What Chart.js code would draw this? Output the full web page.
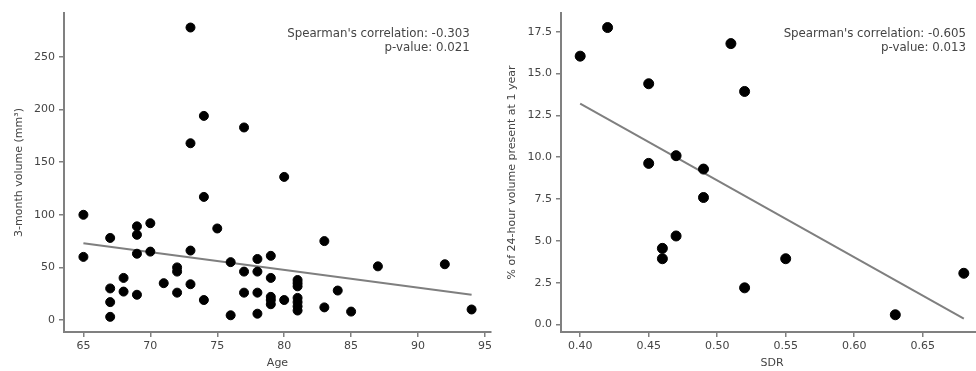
<!DOCTYPE html>
<html>
<head>
<meta charset="utf-8">
<script src="https://cdn.jsdelivr.net/npm/chart.js@4"></script>
<style>
  html, body { margin: 0; padding: 0; background: #fff; overflow: hidden; width: 976px; height: 371px; }
  canvas { position: absolute; top: 0; }
  #left { left: 0; }
  #right { left: 490px; }
</style>
</head>
<body>
<canvas id="left" width="500" height="371"></canvas>
<canvas id="right" width="500" height="371"></canvas>
<script>
// left panel: age vs 3-month volume
const ageX = [65, 65, 67, 67, 67, 67, 68, 68, 69, 69, 69, 69, 70, 70, 71, 72, 72, 72,
    73, 73, 73, 73, 74, 74, 74, 75, 76, 76, 77, 77, 77, 78, 78, 78, 78,
    79, 79, 79, 79, 79, 80, 80, 81, 81, 81, 81, 81, 81, 81, 83, 83, 84, 85, 87, 92, 94];
const volumeY = [100, 60, 78, 30, 17, 3, 40, 27, 89, 81, 63, 24, 92, 65, 35, 50, 46, 26,
    278, 168, 66, 34, 194, 117, 19, 87, 55, 4.5, 183, 46, 26, 58, 46, 26, 6,
    61, 40, 22, 19, 15, 136, 19, 38, 35, 32, 21, 17, 13, 9, 75, 12, 28, 8, 51, 53, 10];
const fitLeftX = [65, 94];
const fitLeftY = [73, 24];
const ageTicks = [65, 70, 75, 80, 85, 90, 95];
const volumeTicks = [0, 50, 100, 150, 200, 250];
const leftStats = ["Spearman's correlation: -0.303", 'p-value: 0.021'];

// right panel: SDR vs % of 24-hour volume
const sdrX = [0.40, 0.42, 0.45, 0.45, 0.46, 0.46, 0.47, 0.47, 0.49, 0.49, 0.51, 0.52, 0.52, 0.55, 0.63, 0.68];
const pctY = [16.04, 17.75, 14.39, 9.63, 4.55, 3.93, 10.09, 5.29, 9.29, 7.59, 16.79, 13.93, 2.19, 3.93, 0.58, 3.06];
const fitRightX = [0.40, 0.68];
const fitRightY = [13.2, 0.35];
const sdrTicks = [0.40, 0.45, 0.50, 0.55, 0.60, 0.65];
const pctTicks = [0, 2.5, 5, 7.5, 10, 12.5, 15, 17.5];
const rightStats = ["Spearman's correlation: -0.605", 'p-value: 0.013'];

const FONT = 'DejaVu Sans';
const TEXT = '#444';
const SPINE = '#808080';

Chart.defaults.font.family = FONT;
Chart.defaults.font.size = 11;
Chart.defaults.color = TEXT;

function pairs(xs, ys) {
    return xs.map((x, i) => ({ x: x, y: ys[i] }));
}

// corner text, right aligned, like matplotlib ax.text(0.95, 0.95, ...)
function statsPlugin(lines, fx) {
    return {
        id: 'stats',
        afterDraw(chart) {
            const a = chart.chartArea;
            const ctx = chart.ctx;
            ctx.save();
            ctx.font = '11.8px "' + FONT + '"';
            ctx.fillStyle = TEXT;
            ctx.textAlign = 'right';
            ctx.textBaseline = 'middle';
            const x = a.left + fx * (a.right - a.left);
            lines.forEach((t, i) => ctx.fillText(t, x, 33.5 + i * 14.3));
            ctx.restore();
        }
    };
}

function makeChart(id, opt) {
    return new Chart(document.getElementById(id), {
        type: 'scatter',
        data: {
            datasets: [{
                data: pairs(opt.xs, opt.ys),
                backgroundColor: '#000',
                borderColor: '#000',
                pointRadius: opt.r,
                pointHoverRadius: opt.r,
            }, {
                type: 'line',
                data: pairs(opt.fitX, opt.fitY),
                borderColor: '#7f7f7f',
                borderWidth: 2,
                pointRadius: 0,
                fill: false,
            }]
        },
        options: {
            responsive: false,
            animation: false,
            layout: { padding: { top: 13, left: 0, right: opt.padRight, bottom: 0 } },
            plugins: { legend: { display: false }, tooltip: { enabled: false } },
            scales: {
                x: {
                    type: 'linear',
                    min: opt.xMin,
                    max: opt.xMax,
                    afterBuildTicks: axis => { axis.ticks = opt.xTicks.map(v => ({ value: v })); },
                    afterFit: axis => { axis.height = 39; },
                    ticks: { padding: 3, maxRotation: 0, callback: opt.xFmt, color: TEXT },
                    grid: { drawOnChartArea: false, drawTicks: true, tickLength: 5, color: SPINE, lineWidth: 1.5 },
                    border: { display: true, color: SPINE, width: 2 },
                    title: { display: true, text: opt.xTitle, color: TEXT, padding: { top: 0, bottom: 1 } }
                },
                y: {
                    type: 'linear',
                    min: opt.yMin,
                    max: opt.yMax,
                    afterBuildTicks: axis => { axis.ticks = opt.yTicks.map(v => ({ value: v })); },
                    afterFit: axis => { axis.width = opt.yWidth; },
                    ticks: { padding: 4, callback: opt.yFmt, color: TEXT },
                    grid: { drawOnChartArea: false, drawTicks: true, tickLength: 5, color: SPINE, lineWidth: 1.5 },
                    border: { display: true, color: SPINE, width: 2 },
                    title: { display: true, text: opt.yTitle, color: TEXT, padding: { top: opt.yTitlePad, bottom: 0 } }
                }
            }
        },
        plugins: [statsPlugin(opt.stats, opt.statsFx)]
    });
}

makeChart('left', {
    xs: ageX, ys: volumeY, fitX: fitLeftX, fitY: fitLeftY, r: 4.5,
    xMin: 63.55, xMax: 95.45, yMin: -11.4, yMax: 291.8,
    xTicks: ageTicks, yTicks: volumeTicks,
    xFmt: v => String(v), yFmt: v => String(v),
    xTitle: 'Age', yTitle: '3-month volume (mm\u00B3)',
    yWidth: 64, yTitlePad: 13, padRight: 9,
    stats: leftStats, statsFx: 0.95
});

makeChart('right', {
    xs: sdrX, ys: pctY, fitX: fitRightX, fitY: fitRightY, r: 5,
    xMin: 0.386, xMax: 0.694, yMin: -0.45, yMax: 18.62,
    xTicks: sdrTicks, yTicks: pctTicks,
    xFmt: v => v.toFixed(2), yFmt: v => v.toFixed(1),
    xTitle: 'SDR', yTitle: '% of 24-hour volume present at 1 year',
    yWidth: 71, yTitlePad: 16, padRight: 7,
    stats: rightStats, statsFx: 0.96
});
</script>
</body>
</html>
